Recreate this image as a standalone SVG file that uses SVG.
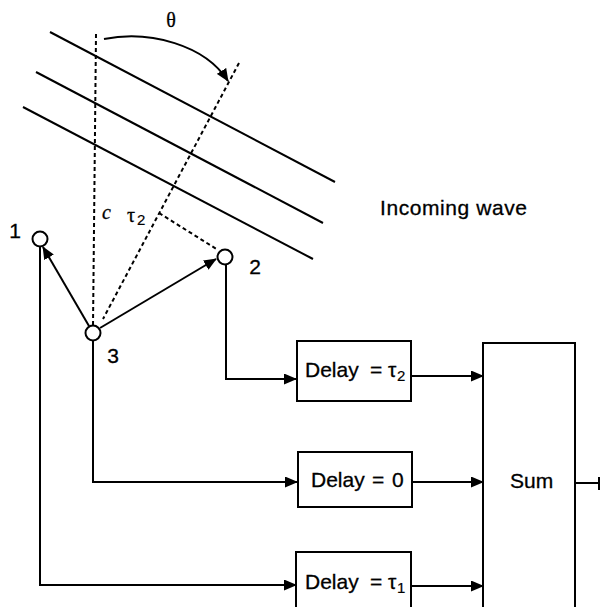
<svg xmlns="http://www.w3.org/2000/svg" width="601" height="607" viewBox="0 0 601 607">
<defs>
<style>
.ln{fill:none;stroke:#000;stroke-width:2}
.dash{fill:none;stroke:#000;stroke-width:2;stroke-dasharray:4 3}
.box{fill:#fff;stroke:#000;stroke-width:2}
.node{fill:#fff;stroke:#000;stroke-width:2}
.t{font-family:"Liberation Sans",Arial,sans-serif;font-size:21px;fill:#000;stroke:#000;stroke-width:0.3}
.s{font-family:"Liberation Serif","Times New Roman",serif;font-size:20px;fill:#000;stroke:#000;stroke-width:0.3}
.sub{font-family:"Liberation Sans",Arial,sans-serif;font-size:15px;fill:#000;stroke:#000;stroke-width:0.2}
</style>
<marker id="ah" markerUnits="userSpaceOnUse" markerWidth="13" markerHeight="11" refX="12" refY="5.5" orient="auto">
<path d="M0,0 L13,5.5 L0,11 z" fill="#000"/>
</marker>
</defs>
<rect width="601" height="607" fill="#fff"/>
<g id="wave">
<line class="ln" x1="50" y1="32" x2="335" y2="182"/>
<line class="ln" x1="36" y1="72" x2="323" y2="223"/>
<line class="ln" x1="23" y1="107" x2="313" y2="259"/>
<text class="t" x="380" y="215" textLength="147" lengthAdjust="spacing">Incoming wave</text>
</g>
<g id="geometry">
<line class="dash" x1="96" y1="34" x2="93" y2="326"/>
<line class="dash" x1="239" y1="63" x2="103" y2="319"/>
<line class="dash" x1="159" y1="213" x2="218" y2="250"/>
<path class="ln" d="M104,39 C150,30 205,45 228,81" marker-end="url(#ah)"/>
<text class="s" x="171" y="27" text-anchor="middle" font-size="22">θ</text>
<text class="s" x="102" y="219" font-style="italic">c</text>
<text class="s" x="127" y="222">τ</text><text class="sub" x="137" y="225">2</text>
</g>
<g id="connectors">
<line class="ln" x1="89" y1="326" x2="43" y2="247" marker-end="url(#ah)"/>
<line class="ln" x1="100" y1="328" x2="216" y2="259" marker-end="url(#ah)"/>
<path class="ln" d="M226,264 V379 H296" marker-end="url(#ah)"/>
<path class="ln" d="M93,341 V482 H297" marker-end="url(#ah)"/>
<path class="ln" d="M40,247 V585 H296" marker-end="url(#ah)"/>
<path class="ln" d="M411,376 H483" marker-end="url(#ah)"/>
<path class="ln" d="M412,482 H483" marker-end="url(#ah)"/>
<path class="ln" d="M411,586 H483" marker-end="url(#ah)"/>
<path class="ln" d="M575,483 H599 M599,477 V490"/>
</g>
<g id="n1"><circle class="node" cx="40" cy="239" r="7.5"/><text class="t" x="15" y="238" text-anchor="middle">1</text></g>
<g id="n2"><circle class="node" cx="225" cy="257" r="7.5"/><text class="t" x="255" y="274" text-anchor="middle">2</text></g>
<g id="n3"><circle class="node" cx="93" cy="333" r="7.5"/><text class="t" x="113" y="363" text-anchor="middle">3</text></g>
<g id="d2"><rect class="box" x="297" y="341" width="114" height="60"/>
<text class="t" x="305" y="377">Delay</text><text class="t" x="370" y="377">=</text><text class="t" x="388" y="377">τ</text><text class="sub" x="397" y="381">2</text></g>
<g id="d0"><rect class="box" x="298" y="452" width="114" height="55"/>
<text class="t" x="311" y="487">Delay</text><text class="t" x="372" y="487">=</text><text class="t" x="392" y="487">0</text></g>
<g id="d1"><rect class="box" x="296" y="552" width="115" height="60"/>
<text class="t" x="305" y="589">Delay</text><text class="t" x="370" y="589">=</text><text class="t" x="388" y="589">τ</text><text class="sub" x="397" y="593">1</text></g>
<g id="sum"><rect class="box" x="483" y="343" width="92" height="280"/>
<text class="t" x="510" y="488">Sum</text></g>
</svg>
